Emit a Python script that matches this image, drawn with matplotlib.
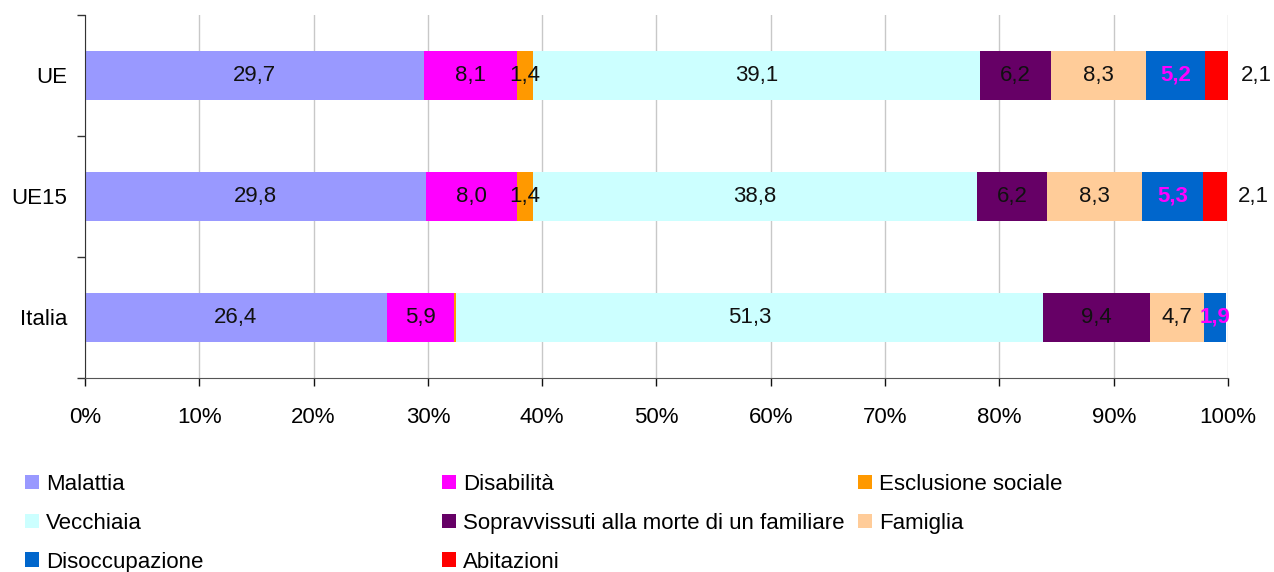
import matplotlib.pyplot as plt
from matplotlib.patches import Patch
from matplotlib.ticker import FixedLocator, PercentFormatter

plt.rcParams["font.family"] = ["Liberation Sans", "DejaVu Sans"]

# Aree di rete, dall'alto verso il basso
areas = ["UE", "UE15", "Italia"]
functions = [
    "Malattia",
    "Disabilità",
    "Esclusione sociale",
    "Vecchiaia",
    "Sopravvissuti alla morte di un familiare",
    "Famiglia",
    "Disoccupazione",
    "Abitazioni",
]
colors = [
    "#9999ff",
    "#ff00ff",
    "#ff9900",
    "#ccffff",
    "#660066",
    "#ffcc99",
    "#0066cc",
    "#ff0000",
]

# Composizione percentuale della spesa per area (stesso ordine di functions)
ue = [29.7, 8.1, 1.4, 39.1, 6.2, 8.3, 5.2, 2.1]
ue15 = [29.8, 8.0, 1.4, 38.8, 6.2, 8.3, 5.3, 2.1]
italia = [26.4, 5.9, 0.2, 51.3, 9.4, 4.7, 1.9, 0.0]
shares = [ue, ue15, italia]

# etichette non mostrate per i segmenti troppo piccoli
hidden = {("Italia", "Esclusione sociale"), ("Italia", "Abitazioni")}

FS = 16

fig = plt.figure(figsize=(12.74, 5.72), dpi=100)
ax = fig.add_axes([0.0667, 0.3392, 0.8972, 0.6346])

ypos = [len(areas) - 1 - i for i in range(len(areas))]

handles = []
for j, name in enumerate(functions):
    vals = [row[j] for row in shares]
    lefts = [sum(row[:j]) for row in shares]
    ax.barh(ypos, vals, left=lefts, height=0.41, color=colors[j],
            edgecolor="none", zorder=2)
    handles.append(Patch(facecolor=colors[j], edgecolor="none", label=name))
    for area, y, v, l in zip(areas, ypos, vals, lefts):
        if (area, name) in hidden:
            continue
        txt = f"{v:.1f}".replace(".", ",")
        if name == "Abitazioni":
            ax.text(l + v + 1.0, y, txt, ha="left", va="center", fontsize=FS,
                    color="#111111", zorder=3)
        elif name == "Disoccupazione":
            ax.text(l + v / 2, y, txt, ha="center", va="center", fontsize=FS,
                    color="#ff00ff", fontweight="bold", zorder=3)
        else:
            ax.text(l + v / 2, y, txt, ha="center", va="center", fontsize=FS,
                    color="#111111", zorder=3)

ax.set_xlim(0, 100)
ax.set_ylim(-0.5, len(areas) - 0.5)
ax.xaxis.set_major_locator(FixedLocator(range(0, 101, 10)))
ax.xaxis.set_major_formatter(PercentFormatter(decimals=0))
ax.grid(axis="x", color="#c8c8c8", linewidth=1, zorder=0)
ax.set_axisbelow(True)

ax.set_yticks(ypos)
ax.set_yticklabels(areas)
ax.yaxis.set_minor_locator(FixedLocator([-0.5, 0.5, 1.5, 2.5]))
ax.tick_params(axis="y", which="major", length=0, pad=13, labelsize=FS)
ax.tick_params(axis="y", which="minor", length=6, width=1, color="#333333")
ax.tick_params(axis="x", length=6, width=1, color="#111111", pad=15,
               labelsize=FS)

for side in ("top", "right"):
    ax.spines[side].set_visible(False)
ax.spines["left"].set_color("#333333")
ax.spines["bottom"].set_color("#555555")

# legenda su tre colonne
columns = [[0, 3, 6], [1, 4, 7], [2, 5]]
xcols = [25, 442, 858]
for idxs, x in zip(columns, xcols):
    fig.legend(
        handles=[handles[i] for i in idxs],
        loc="upper left",
        bbox_to_anchor=(x / 1274, 1 - 474 / 572),
        frameon=False,
        fontsize=FS,
        handlelength=0.63,
        handleheight=0.63,
        handletextpad=0.3,
        labelspacing=0.8,
        borderpad=0,
        borderaxespad=0,
    )

fig.savefig("out.png", dpi=100)
